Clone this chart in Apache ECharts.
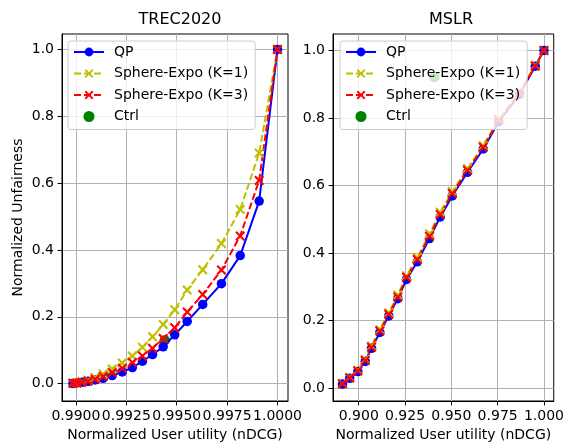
<!DOCTYPE html>
<html>
<head>
<meta charset="utf-8">
<script src="https://cdn.jsdelivr.net/npm/echarts@6/dist/echarts.min.js"></script>
<style>
html, body { margin: 0; padding: 0; background: #fff; }
#chart-c { width: 567px; height: 447px; }
</style>
</head>
<body>
<div id="chart-c"></div>
<script>
// TREC2020 (left panel)
var trecX   = [0.98985, 0.99005, 0.99030, 0.99060, 0.99095, 0.99135, 0.99180, 0.99230, 0.99280, 0.99330,
               0.99380, 0.99433, 0.99490, 0.99552, 0.99629, 0.99722, 0.99815, 0.99909, 1.00000];
var trecQP  = [0.000, 0.002, 0.004, 0.007, 0.011, 0.016, 0.024, 0.035, 0.048, 0.067,
               0.087, 0.110, 0.146, 0.186, 0.237, 0.299, 0.383, 0.546, 1.000];
var trecK1  = [0.001, 0.002, 0.005, 0.010, 0.018, 0.029, 0.044, 0.062, 0.083, 0.109,
               0.140, 0.177, 0.221, 0.280, 0.341, 0.419, 0.521, 0.690, 1.000];
var trecK3  = [0.001, 0.002, 0.004, 0.007, 0.013, 0.021, 0.033, 0.046, 0.063, 0.083,
               0.106, 0.135, 0.167, 0.214, 0.267, 0.340, 0.442, 0.608, 1.000];
var trecCtrl = [0.99441, 0.130];

// MSLR (right panel)
var mslrX   = [0.8912, 0.8951, 0.8995, 0.9035, 0.9069, 0.9114, 0.9162, 0.9211, 0.9258, 0.9316,
               0.9382, 0.9440, 0.9505, 0.9587, 0.9672, 0.9756, 0.9868, 0.9953, 1.0000];
var mslrQP  = [0.012, 0.029, 0.049, 0.079, 0.118, 0.165, 0.214, 0.265, 0.322, 0.374,
               0.443, 0.507, 0.569, 0.639, 0.708, 0.789, 0.870, 0.953, 1.000];
var mslrK1  = [0.014, 0.032, 0.053, 0.085, 0.125, 0.173, 0.223, 0.276, 0.333, 0.387,
               0.457, 0.521, 0.582, 0.650, 0.718, 0.797, 0.876, 0.956, 1.000];
var mslrK3  = [0.013, 0.030, 0.051, 0.082, 0.121, 0.169, 0.219, 0.270, 0.328, 0.381,
               0.450, 0.514, 0.576, 0.645, 0.713, 0.793, 0.873, 0.954, 1.000];
var mslrCtrl = [0.9408, 0.921];

// tick labels
var trecTicks = [0.9900, 0.9925, 0.9950, 0.9975, 1.0000];
var mslrTicks = [0.900, 0.925, 0.950, 0.975, 1.000];
var yTicks    = [0.0, 0.2, 0.4, 0.6, 0.8, 1.0];

var names = ['QP', 'Sphere-Expo (K=1)', 'Sphere-Expo (K=3)', 'Ctrl'];
var FONT = 'DejaVu Sans';
var FS = 14;
var CROSS = 'path://M0,1.5L1.5,0L5,3.5L8.5,0L10,1.5L6.5,5L10,8.5L8.5,10L5,6.5L1.5,10L0,8.5L3.5,5Z';

function pairs(xs, ys) {
    return xs.map(function (x, i) { return [x, ys[i]]; });
}

function axis(grid, min, max, ticks, digits, name, isY) {
    return {
        type: 'value',
        gridIndex: grid,
        min: min,
        max: max,
        name: name,
        nameLocation: 'middle',
        nameGap: isY ? 37 : 27,
        nameTextStyle: { fontFamily: FONT, fontSize: FS, color: '#000' },
        axisLine: { show: true, onZero: false, lineStyle: { color: '#000', width: 1 } },
        axisTick: { show: true, length: 4.4, customValues: ticks, lineStyle: { color: '#000', width: 1 } },
        axisLabel: {
            customValues: ticks,
            margin: 8,
            fontFamily: FONT,
            fontSize: FS,
            color: '#000',
            formatter: function (v) { return v.toFixed(digits); }
        },
        splitLine: { show: true, lineStyle: { color: '#b0b0b0', width: 1 } }
    };
}

function panelSeries(xi, xs, qp, k1, k3, ctrl) {
    return [{
        name: names[0], type: 'line', xAxisIndex: xi, yAxisIndex: xi,
        data: pairs(xs, qp),
        symbol: 'circle', symbolSize: 9.5, showAllSymbol: true,
        lineStyle: { color: '#0000ff', width: 2 },
        itemStyle: { color: '#0000ff' }
    }, {
        name: names[1], type: 'line', xAxisIndex: xi, yAxisIndex: xi,
        data: pairs(xs, k1),
        symbol: CROSS, symbolSize: 10, showAllSymbol: true,
        lineStyle: { color: '#bfbf00', width: 2, type: [7, 3] },
        itemStyle: { color: '#bfbf00' }
    }, {
        name: names[2], type: 'line', xAxisIndex: xi, yAxisIndex: xi,
        data: pairs(xs, k3),
        symbol: CROSS, symbolSize: 10, showAllSymbol: true,
        lineStyle: { color: '#ff0000', width: 2, type: [7, 3] },
        itemStyle: { color: '#ff0000' }
    }, {
        name: names[3], type: 'scatter', xAxisIndex: xi, yAxisIndex: xi,
        data: [ctrl],
        symbol: 'circle', symbolSize: 10.5,
        itemStyle: { color: '#008000', opacity: 1 }
    }];
}

function legend(left) {
    return {
        data: names,
        orient: 'vertical',
        left: left,
        top: 41,
        itemWidth: 30,
        itemHeight: 11,
        itemGap: 5.5,
        padding: [3, 7, 5, 5],
        backgroundColor: 'rgba(255,255,255,0.8)',
        borderColor: '#cccccc',
        borderWidth: 1,
        borderRadius: 3,
        textStyle: { fontFamily: FONT, fontSize: FS, color: '#000', lineHeight: 16, padding: [0, 0, 0, 5] }
    };
}

var option = {
    animation: false,
    backgroundColor: '#fff',
    title: [
        { text: 'TREC2020', left: 175, top: 7, textAlign: 'center',
          textStyle: { fontFamily: FONT, fontSize: 16, fontWeight: 'normal', color: '#000' } },
        { text: 'MSLR', left: 446, top: 7, textAlign: 'center',
          textStyle: { fontFamily: FONT, fontSize: 16, fontWeight: 'normal', color: '#000' } }
    ],
    legend: [legend(68), legend(340)],
    grid: [
        { left: 62, right: 279, top: 34, bottom: 44, show: true, borderColor: '#000', borderWidth: 1, backgroundColor: 'transparent' },
        { left: 333, right: 8, top: 34, bottom: 44, show: true, borderColor: '#000', borderWidth: 1, backgroundColor: 'transparent' }
    ],
    xAxis: [
        axis(0, 0.98931, 1.00052, trecTicks, 4, 'Normalized User utility (nDCG)', false),
        axis(1, 0.8861, 1.00527, mslrTicks, 3, 'Normalized User utility (nDCG)', false)
    ],
    yAxis: [
        axis(0, -0.052, 1.046, yTicks, 1, 'Normalized Unfairness', true),
        axis(1, -0.038, 1.0485, yTicks, 1, '', true)
    ],
    series: panelSeries(0, trecX, trecQP, trecK1, trecK3, trecCtrl)
        .concat(panelSeries(1, mslrX, mslrQP, mslrK1, mslrK3, mslrCtrl))
};

var myChart = echarts.init(document.getElementById('chart-c'));
myChart.setOption(option);
</script>
</body>
</html>
